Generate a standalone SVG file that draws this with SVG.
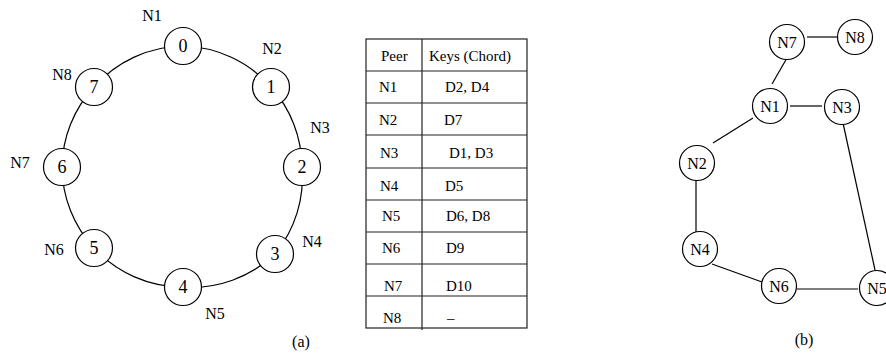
<svg xmlns="http://www.w3.org/2000/svg" width="886" height="354" viewBox="0 0 886 354">
  <style>
    text { font-family: "Liberation Serif", "Times New Roman", serif; fill: #000; }
    .node { fill: #fff; stroke: #000; stroke-width: 1.2; }
    .edge { fill: none; stroke: #000; stroke-width: 1.2; }
    .digit { font-size: 18px; text-anchor: middle; }
    .lbl { font-size: 16px; text-anchor: middle; }
    .cell { font-size: 15px; }
    .grid { stroke: #222; stroke-width: 1.2; }
  </style>

  <!-- (a) Chord ring -->
  <g id="ring-connectors">
    <path class="edge" d="M183,46 A121,121 0 0 1 271,87"/>
    <path class="edge" d="M271,87 A121,121 0 0 1 302,167"/>
    <path class="edge" d="M302,167 A121,121 0 0 1 275,254"/>
    <path class="edge" d="M275,254 A121,121 0 0 1 183,287"/>
    <path class="edge" d="M183,287 A121,121 0 0 1 94,248"/>
    <path class="edge" d="M94,248 A121,121 0 0 1 62,167"/>
    <path class="edge" d="M62,167 A121,121 0 0 1 94,87"/>
    <path class="edge" d="M94,87 A121,121 0 0 1 183,46"/>
  </g>
  <g id="ring-0"><circle class="node" cx="183" cy="46" r="18.5"/><text class="digit" x="183" y="52">0</text></g>
  <g id="ring-1"><circle class="node" cx="271" cy="87" r="18.5"/><text class="digit" x="271" y="93">1</text></g>
  <g id="ring-2"><circle class="node" cx="302" cy="167" r="18.5"/><text class="digit" x="302" y="173">2</text></g>
  <g id="ring-3"><circle class="node" cx="275" cy="254" r="18.5"/><text class="digit" x="275" y="260">3</text></g>
  <g id="ring-4"><circle class="node" cx="183" cy="287" r="18.5"/><text class="digit" x="183" y="293">4</text></g>
  <g id="ring-5"><circle class="node" cx="94" cy="248" r="18.5"/><text class="digit" x="94" y="254">5</text></g>
  <g id="ring-6"><circle class="node" cx="62" cy="167" r="18.5"/><text class="digit" x="62" y="173">6</text></g>
  <g id="ring-7"><circle class="node" cx="94" cy="87" r="18.5"/><text class="digit" x="94" y="93">7</text></g>
  <g id="ring-labels">
    <text class="lbl" x="152" y="21">N1</text>
    <text class="lbl" x="272" y="54">N2</text>
    <text class="lbl" x="320" y="133">N3</text>
    <text class="lbl" x="312" y="247">N4</text>
    <text class="lbl" x="215" y="319">N5</text>
    <text class="lbl" x="54" y="255">N6</text>
    <text class="lbl" x="20" y="168">N7</text>
    <text class="lbl" x="62" y="80">N8</text>
    <text class="lbl" x="301" y="347">(a)</text>
  </g>

  <!-- key table -->
  <g id="key-table">
    <rect x="366" y="39" width="161" height="289" fill="none" class="grid"/>
    <line class="grid" x1="422" y1="39" x2="422" y2="330"/>
    <line class="grid" x1="366" y1="71" x2="527" y2="71"/>
    <line class="grid" x1="366" y1="103" x2="527" y2="103"/>
    <line class="grid" x1="366" y1="135" x2="527" y2="135"/>
    <line class="grid" x1="366" y1="168" x2="527" y2="168"/>
    <line class="grid" x1="366" y1="200" x2="527" y2="200"/>
    <line class="grid" x1="366" y1="232" x2="527" y2="232"/>
    <line class="grid" x1="366" y1="264" x2="527" y2="264"/>
    <line class="grid" x1="366" y1="296" x2="527" y2="296"/>
    <text class="cell" x="381" y="61">Peer</text>
    <text class="cell" x="429" y="61">Keys (Chord)</text>
    <text class="cell" x="379" y="92">N1</text><text class="cell" x="445" y="92">D2, D4</text>
    <text class="cell" x="379" y="125">N2</text><text class="cell" x="444" y="125">D7</text>
    <text class="cell" x="380" y="158">N3</text><text class="cell" x="449" y="158">D1, D3</text>
    <text class="cell" x="380" y="191">N4</text><text class="cell" x="445" y="191">D5</text>
    <text class="cell" x="382" y="221">N5</text><text class="cell" x="446" y="221">D6, D8</text>
    <text class="cell" x="382" y="253">N6</text><text class="cell" x="446" y="253">D9</text>
    <text class="cell" x="384" y="291">N7</text><text class="cell" x="446" y="291">D10</text>
    <text class="cell" x="383" y="323">N8</text><text class="cell" x="447" y="323">–</text>
  </g>

  <!-- (b) overlay graph -->
  <g id="overlay-connectors">
    <line class="edge" x1="807" y1="37" x2="837" y2="37"/>
    <line class="edge" x1="787" y1="58" x2="772" y2="84"/>
    <line class="edge" x1="790" y1="106" x2="822" y2="106"/>
    <line class="edge" x1="753" y1="118" x2="713" y2="143"/>
    <line class="edge" x1="843" y1="123" x2="875" y2="270"/>
    <line class="edge" x1="696" y1="180" x2="696" y2="232"/>
    <line class="edge" x1="712" y1="264" x2="762" y2="282"/>
    <line class="edge" x1="797" y1="289" x2="858" y2="289"/>
  </g>
  <g id="peer-N7"><circle class="node" cx="787" cy="42" r="17.5"/><text class="lbl" x="787" y="47.5">N7</text></g>
  <g id="peer-N8"><circle class="node" cx="855" cy="37" r="17.5"/><text class="lbl" x="855" y="42.5">N8</text></g>
  <g id="peer-N1"><circle class="node" cx="770" cy="106" r="17.5"/><text class="lbl" x="770" y="111.5">N1</text></g>
  <g id="peer-N3"><circle class="node" cx="842" cy="107" r="17.5"/><text class="lbl" x="842" y="112.5">N3</text></g>
  <g id="peer-N2"><circle class="node" cx="697" cy="163" r="17.5"/><text class="lbl" x="697" y="168.5">N2</text></g>
  <g id="peer-N4"><circle class="node" cx="700" cy="249" r="17.5"/><text class="lbl" x="700" y="254.5">N4</text></g>
  <g id="peer-N6"><circle class="node" cx="779" cy="286" r="17.5"/><text class="lbl" x="779" y="291.5">N6</text></g>
  <g id="peer-N5"><circle class="node" cx="877" cy="288" r="17.5"/><text class="lbl" x="877" y="293.5">N5</text></g>
  <text class="lbl" x="804" y="345">(b)</text>
</svg>
